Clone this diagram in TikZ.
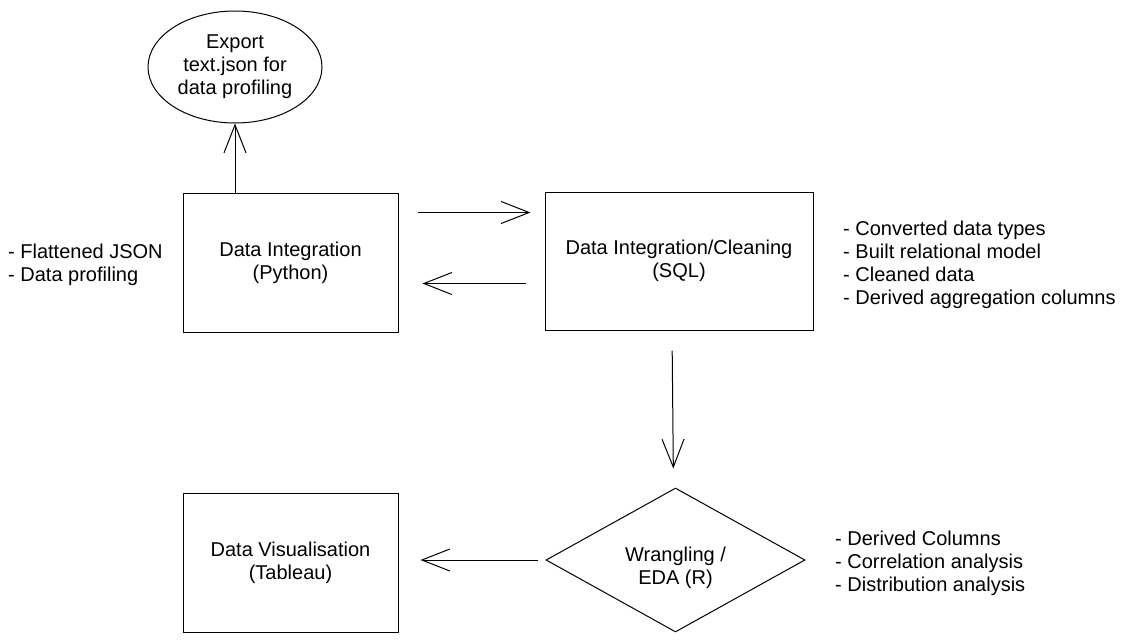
\documentclass[tikz,border=0pt]{standalone}
\usepackage{fontspec}
\setmainfont{Liberation Sans}
\usetikzlibrary{shapes.geometric,arrows.meta}

\begin{document}
\begin{tikzpicture}[x=1pt,y=-1pt,
  every node/.style={font=\fontsize{20}{23}\selectfont,align=center,inner sep=0pt},
  box/.style={draw,line width=1pt,minimum width=215pt,minimum height=139pt},
  arr/.style={line width=1pt,-{Straight Barb[length=28pt,width=22pt]}},
  note/.style={anchor=west,align=left}]
  \useasboundingbox (0,0) rectangle (1123,643);
   % the stages
   \node[draw,ellipse,line width=1pt,minimum width=174pt,minimum height=112pt] (export) at (235,67) {Export\\text.json for\\data profiling};
   \node[box] (python) at (290.5,262.5) {Data Integration\\(Python)};
   \node[box,minimum width=268pt,minimum height=138pt] (sql) at (679,261) {Data Integration/Cleaning\\(SQL)};
   \node[draw,diamond,aspect=1.8,line width=1pt,minimum width=259pt,minimum height=144pt] (wrangle) at (675.5,560) {\rule{0pt}{30pt}Wrangling /\\EDA (R)};
   \node[box] (tableau) at (290.5,562.5) {Data Visualisation\\(Tableau)};
%  \draw[help lines] (0,0) grid[step=50] (1123,643);
   % side notes
   \node[note] (pynote) at (8,265) {- Flattened JSON\\- Data profiling};
   \node[note] (sqlnote) at (843,264.5) {- Converted data types\\- Built relational model\\- Cleaned data\\- Derived aggregation columns};
   \node[note] (rnote) at (835,563.5) {- Derived Columns\\- Correlation analysis\\- Distribution analysis};
   % arrows
   \draw[arr] (python.north -| export.south) -- (export.south);
   \draw[arr,shorten <=19pt,shorten >=14pt] ([yshift=50pt]python.east) -- ([yshift=50pt]python.east -| sql.west);
   \draw[arr,shorten <=19pt,shorten >=24pt] ([yshift=-21pt]python.east -| sql.west) -- ([yshift=-21pt]python.east);
   \draw[arr,shorten <=20pt,shorten >=19pt] ([xshift=-7pt]sql.south) -- ([xshift=-2pt]wrangle.north);
   \draw[arr,shorten <=8pt,shorten >=22pt] (wrangle.west) -- (wrangle.west -| tableau.east);
 \end{tikzpicture}
\end{document}
